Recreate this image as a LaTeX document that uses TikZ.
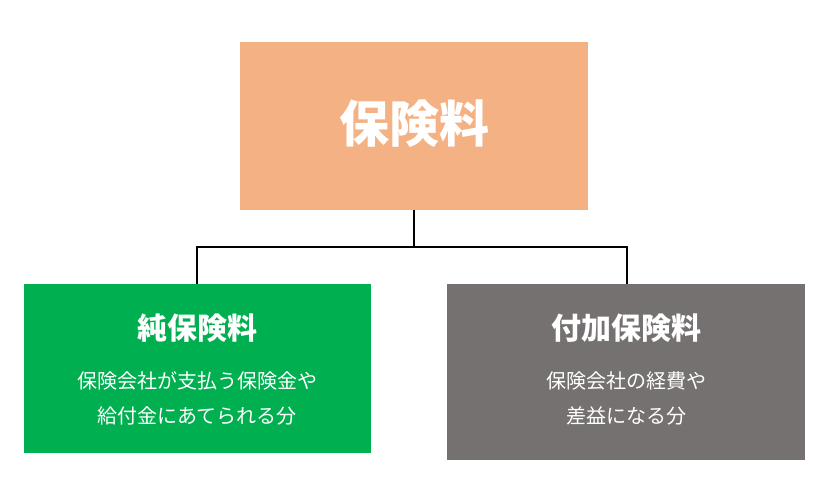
\documentclass[tikz,border=0pt]{standalone}
\usepackage{fontspec}
\newfontfamily\cjk{Noto Sans CJK JP}
\definecolor{topc}{HTML}{F4B183}
\definecolor{grn}{HTML}{00B050}
\definecolor{gry}{HTML}{767171}
\begin{document}
\begin{tikzpicture}[x=1pt,y=-1pt,
  box/.style={draw=none,inner sep=0pt},
  ttl/.style={text=white,font=\cjk\bfseries\fontsize{30}{36}\selectfont},
  sub/.style={text=white,font=\cjk\fontsize{20}{35}\selectfont,align=center},
  conn/.style={line width=1.6pt,black}]
\useasboundingbox (0,0) rectangle (837,498);
\fill[topc] (240,42) rectangle (588,210);
\node[text=white,font=\cjk\bfseries\fontsize{50}{60}\selectfont] (top) at (414,124) {保険料};
\coordinate (tb) at (414,210);
\fill[grn] (24,284) rectangle (371,453);
\fill[gry] (447,284) rectangle (805,460);
\coordinate (lt) at (197,284);
\coordinate (rt) at (627,284);
\node[ttl] (l1) at (197,328) {純保険料};
\node[sub] (l2) at (197,398) {保険会社が支払う保険金や\\給付金にあてられる分};
\node[ttl] (r1) at (626,328) {付加保険料};
\node[sub] (r2) at (626,398) {保険会社の経費や\\差益になる分};
\draw[conn] (tb) -- (414,247) -| (lt);
\draw[conn] (414,247) -| (rt);
\end{tikzpicture}
\end{document}
